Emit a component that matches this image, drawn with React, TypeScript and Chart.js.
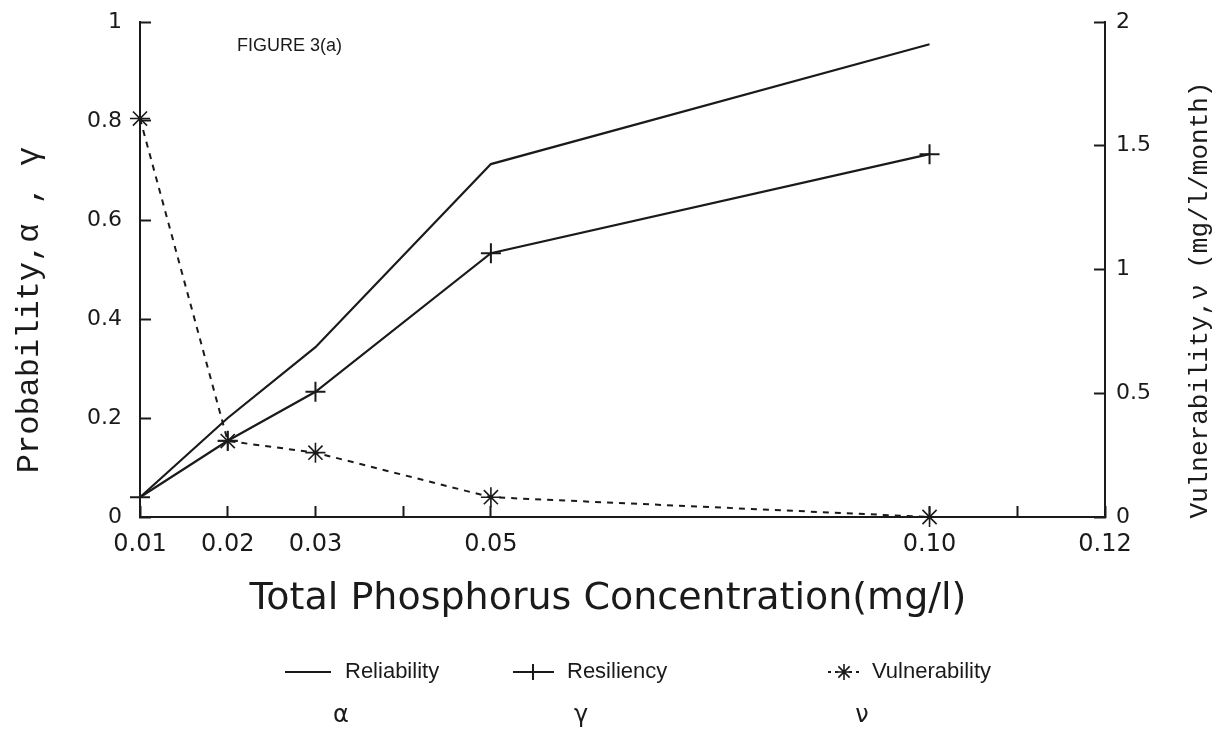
import React, { useEffect, useRef } from "react";
import { Chart, registerables } from "chart.js";

Chart.register(...registerables);

// ---- data ----
const xValues = [0.01, 0.02, 0.03, 0.05, 0.1];
const reliability = [0.04, 0.2, 0.343, 0.713, 0.955];
const resiliency = [0.04, 0.154, 0.253, 0.533, 0.733];
const vulnerability = [1.61, 0.307, 0.26, 0.08, 0.0];

const xTickValues = [0.01, 0.02, 0.03, 0.04, 0.05, 0.1, 0.11, 0.12];
const xTickLabels = ["0.01", "0.02", "0.03", "", "0.05", "0.10", "", "0.12"];
const leftTickValues = [0, 0.2, 0.4, 0.6, 0.8, 1];
const leftTickLabels = ["0", "0.2", "0.4", "0.6", "0.8", "1"];
const rightTickValues = [0, 0.5, 1, 1.5, 2];
const rightTickLabels = ["0", "0.5", "1", "1.5", "2"];

const seriesNames = ["Reliability", "Resiliency", "Vulnerability"];
const seriesSymbols = ["α", "γ", "ν"];
const xTitle = "Total Phosphorus Concentration(mg/l)";
const leftTitle = "Probability,α , γ";
const rightTitle = "Vulnerability,ν (mg/l/month)";
const figureLabel = "FIGURE 3(a)";

const INK = "#1a1a1a";
const SANS = "'DejaVu Sans', sans-serif";
const LEG = "'Liberation Sans', sans-serif";
const MONO = "'Liberation Mono', monospace";

const decorPlugin = {
  id: "decor",
  afterDraw(chart: any) {
    const ctx = chart.ctx as CanvasRenderingContext2D;
    ctx.save();
    ctx.fillStyle = INK;
    ctx.strokeStyle = INK;

    // figure label
    ctx.font = `18px ${LEG}`;
    ctx.textAlign = "left";
    ctx.textBaseline = "middle";
    ctx.fillText(figureLabel, 237, 46);

    // x title
    ctx.font = `38px ${SANS}`;
    ctx.textAlign = "center";
    ctx.fillText(xTitle, 608, 599);

    // left title
    ctx.save();
    ctx.translate(30, 310);
    ctx.rotate(-Math.PI / 2);
    ctx.font = `32px ${MONO}`;
    ctx.textAlign = "center";
    ctx.textBaseline = "middle";
    ctx.fillText(leftTitle, 0, 0);
    ctx.restore();

    // right title
    ctx.save();
    ctx.translate(1200, 300);
    ctx.rotate(-Math.PI / 2);
    ctx.font = `26px ${MONO}`;
    ctx.textAlign = "center";
    ctx.textBaseline = "middle";
    ctx.fillText(rightTitle, 0, 0);
    ctx.restore();

    // legend
    const rowY = 672;
    const greekY = 716;
    ctx.font = `22px ${LEG}`;
    ctx.textAlign = "left";
    ctx.textBaseline = "middle";
    ctx.lineWidth = 2;

    // Reliability
    ctx.beginPath();
    ctx.moveTo(285, rowY);
    ctx.lineTo(331, rowY);
    ctx.stroke();
    ctx.fillText(seriesNames[0], 345, rowY);

    // Resiliency
    ctx.beginPath();
    ctx.moveTo(513, rowY);
    ctx.lineTo(554, rowY);
    ctx.moveTo(533, rowY - 8);
    ctx.lineTo(533, rowY + 8);
    ctx.stroke();
    ctx.fillText(seriesNames[1], 567, rowY);

    // Vulnerability
    ctx.setLineDash([3, 4]);
    ctx.beginPath();
    ctx.moveTo(828, rowY);
    ctx.lineTo(862, rowY);
    ctx.stroke();
    ctx.setLineDash([]);
    ctx.lineWidth = 1.6;
    const sx = 844;
    const r = 8;
    ctx.beginPath();
    for (let k = 0; k < 4; k++) {
      const a = (k * Math.PI) / 4;
      ctx.moveTo(sx - r * Math.cos(a), rowY - r * Math.sin(a));
      ctx.lineTo(sx + r * Math.cos(a), rowY + r * Math.sin(a));
    }
    ctx.stroke();
    ctx.fillText(seriesNames[2], 872, rowY);

    ctx.font = `24px ${SANS}`;
    ctx.textAlign = "center";
    ctx.fillText(seriesSymbols[0], 341, greekY);
    ctx.fillText(seriesSymbols[1], 581, greekY);
    ctx.fillText(seriesSymbols[2], 862, greekY);

    ctx.restore();
  },
};

export default function App() {
  const ref = useRef<HTMLCanvasElement | null>(null);

  useEffect(() => {
    document.body.style.margin = "0";
    const canvas = ref.current;
    if (!canvas) return;

    const chart = new Chart(canvas, {
      type: "line",
      data: {
        datasets: [
          {
            label: seriesNames[0],
            data: xValues.map((x, i) => ({ x, y: reliability[i] })),
            yAxisID: "yL",
            borderColor: INK,
            borderWidth: 2.2,
            pointRadius: 0,
            clip: false,
          },
          {
            label: seriesNames[1],
            data: xValues.map((x, i) => ({ x, y: resiliency[i] })),
            yAxisID: "yL",
            borderColor: INK,
            borderWidth: 2.2,
            pointStyle: "cross",
            pointRadius: 10,
            pointBorderWidth: 2,
            pointBorderColor: INK,
            clip: false,
          },
          {
            label: seriesNames[2],
            data: xValues.map((x, i) => ({ x, y: vulnerability[i] })),
            yAxisID: "yR",
            borderColor: INK,
            borderWidth: 2,
            borderDash: [6, 6],
            pointStyle: "star",
            pointRadius: 10,
            pointBorderWidth: 1.6,
            pointBorderColor: INK,
            clip: false,
          },
        ],
      },
      options: {
        animation: false,
        responsive: false,
        layout: { padding: { top: 22, left: 0, right: 0, bottom: 0 } },
        plugins: {
          legend: { display: false },
          tooltip: { enabled: false },
        },
        scales: {
          x: {
            type: "linear",
            position: "bottom",
            min: 0.01,
            max: 0.12,
            afterBuildTicks: (s: any) => {
              s.ticks = xTickValues.map((v) => ({ value: v }));
            },
            afterFit: (s: any) => {
              s.height = 213;
              s.paddingLeft = 0;
              s.paddingRight = 0;
            },
            ticks: {
              autoSkip: false,
              maxRotation: 0,
              padding: 24,
              color: INK,
              font: { family: SANS, size: 24 },
              callback: (_v: any, i: number) => xTickLabels[i],
            },
            grid: {
              drawOnChartArea: false,
              tickLength: -11,
              tickWidth: 2,
              tickColor: INK,
            },
            border: { color: INK, width: 2 },
          },
          yL: {
            type: "linear",
            position: "left",
            min: 0,
            max: 1,
            afterBuildTicks: (s: any) => {
              s.ticks = leftTickValues.map((v) => ({ value: v }));
            },
            afterFit: (s: any) => {
              s.width = 140;
              s.paddingTop = 0;
              s.paddingBottom = 0;
            },
            ticks: {
              padding: 29,
              color: INK,
              font: { family: SANS, size: 22 },
              callback: (_v: any, i: number) => leftTickLabels[i],
            },
            grid: {
              drawOnChartArea: false,
              tickLength: -11,
              tickWidth: 2,
              tickColor: INK,
            },
            border: { color: INK, width: 2 },
          },
          yR: {
            type: "linear",
            position: "right",
            min: 0,
            max: 2,
            afterBuildTicks: (s: any) => {
              s.ticks = rightTickValues.map((v) => ({ value: v }));
            },
            afterFit: (s: any) => {
              s.width = 115;
              s.paddingTop = 0;
              s.paddingBottom = 0;
            },
            ticks: {
              padding: 22,
              color: INK,
              font: { family: SANS, size: 22 },
              callback: (_v: any, i: number) => rightTickLabels[i],
            },
            grid: {
              drawOnChartArea: false,
              tickLength: -11,
              tickWidth: 2,
              tickColor: INK,
            },
            border: { color: INK, width: 2 },
          },
        },
      },
      plugins: [decorPlugin],
    });

    return () => chart.destroy();
  }, []);

  return (
    <div style={{ width: 1220, height: 730, background: "#fff" }}>
      <canvas ref={ref} width={1220} height={730} style={{ display: "block" }} />
    </div>
  );
}
